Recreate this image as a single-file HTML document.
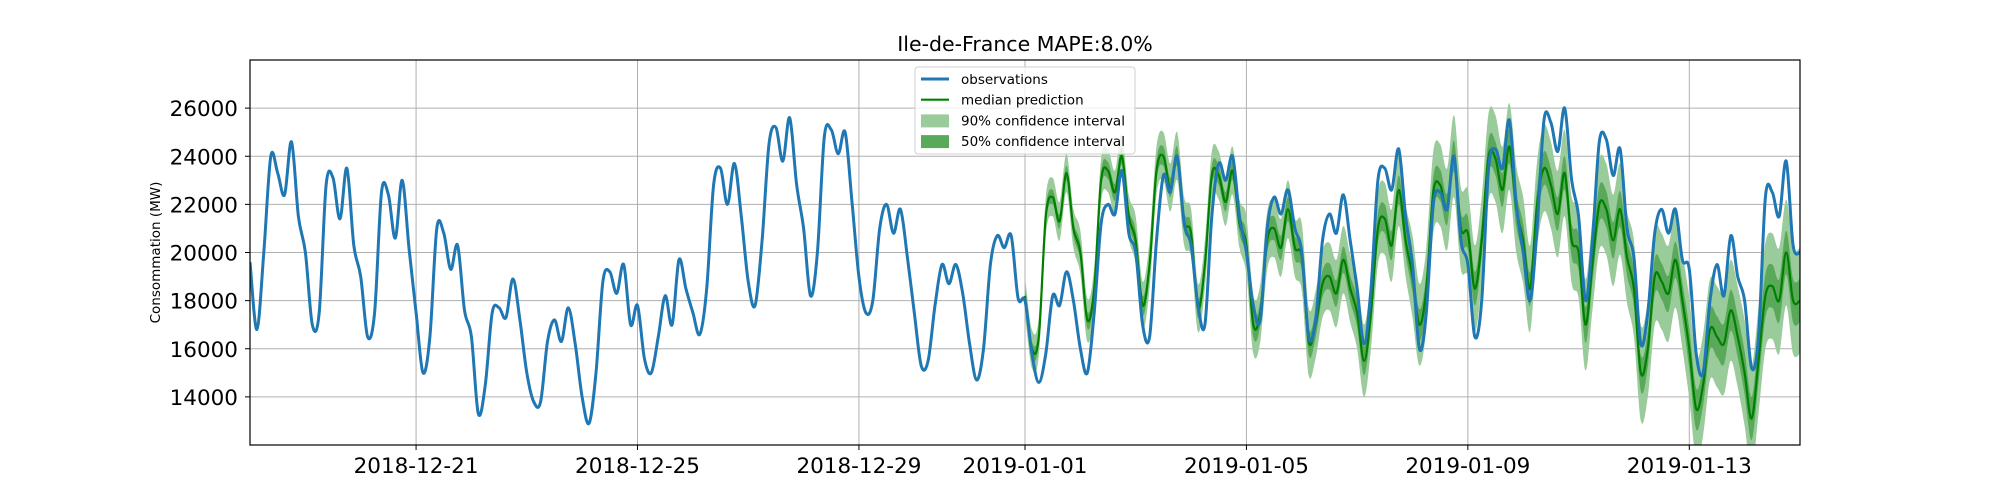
<!DOCTYPE html>
<html><head><meta charset="utf-8">
<style>
html,body{margin:0;padding:0;background:#fff;}
svg{display:block;font-family:"DejaVu Sans","Liberation Sans",sans-serif;}
</style></head>
<body>
<svg id="chart" width="2000" height="500" viewBox="0 0 2000 500"></svg>
<script>
// ---- data ----
const xTickDays = [3, 7, 11, 14, 18, 22, 26];
const xTickLabels = ["2018-12-21","2018-12-25","2018-12-29","2019-01-01","2019-01-05","2019-01-09","2019-01-13"];
const yTicks = [14000, 16000, 18000, 20000, 22000, 24000, 26000];
const stepHours = 3;
// observations, 3-hourly from 2018-12-18 00:00
const observations = [
19600,16800,20000,24000,23300,22400,24600,21500,
20000,17000,17500,22800,23100,21400,23500,20300,
19000,16500,17500,22500,22400,20600,23000,20100,
17500,15000,16500,21000,20800,19300,20300,17600,
16500,13300,14500,17500,17700,17300,18900,17200,
15000,13800,13800,16300,17200,16300,17700,16200,
14000,12900,15000,18800,19200,18300,19500,17000,
17800,15600,15000,16500,18200,17000,19700,18500,
17500,16600,18500,22800,23500,22000,23700,21500,
18800,17800,20500,24500,25200,23800,25600,22800,
21000,18200,20000,24800,25100,24100,25000,22100,
19000,17500,18000,21000,22000,20800,21800,19800,
17500,15300,15500,17800,19500,18700,19500,18300,
16200,14700,16000,19500,20700,20200,20700,18100,
18000,15800,14600,15800,18200,17800,19200,18000,
16000,15000,17500,21200,22000,21600,23400,20800,
20000,17000,16500,20500,23200,22500,24000,21200,
20300,17800,17000,21500,23700,23000,24000,21500,
20000,17800,17200,21000,22300,21600,22600,21000,
20000,16500,17200,20500,21600,20800,22400,20500,
18500,16200,18500,23000,23500,22600,24300,21500,
19500,16000,17500,22000,22500,21800,24000,20500,
19500,16500,18000,23500,24300,23500,25500,22000,
20000,18000,21000,25500,25400,24200,26000,23000,
21500,18000,20500,24600,24700,23200,24300,21000,
19800,16200,17500,20800,21800,20800,21800,19700,
19300,15800,15000,18000,19500,18200,20700,19000,
18000,15200,16500,22300,22500,21500,23800,20300,
20000];
const predStartDay = 14;
// median prediction, 3-hourly from 2019-01-01 00:00
const median = [
18200,16000,16500,21500,22300,21300,23300,21000,
20000,17200,18500,23000,23400,22500,24000,21500,
20500,17800,19500,23400,24000,22700,24000,21300,
20800,17700,19500,23200,23200,22100,23400,21200,
20300,17000,17500,20500,21000,20200,21800,20200,
19800,16300,17000,18700,19000,18300,19700,18500,
17500,15500,17500,21000,21400,20300,22600,20500,
19000,17000,18500,22500,22800,21800,24000,21000,
20800,18500,20500,24000,23900,22600,24400,21800,
20500,18500,22000,23500,22800,21600,23300,20500,
20000,17000,19500,22000,21800,20500,21800,19800,
18500,15000,16000,19000,18800,18300,19700,18000,
16000,13500,14500,16800,16500,16200,17600,16500,
15000,13100,15500,18200,18600,18000,20000,18000,
18000];
// band half-widths per forecast day (MW)
const halfWidth50 = [300,350,400,400,500,550,600,650,700,700,750,750,850,900,900];
const halfWidth90 = [800,900,1000,1000,1200,1400,1500,1700,1800,1800,1900,2000,2100,2200,2200];

// ---- axes ----
const X0=250, X1=1800, Y0=60, Y1=445, DAYS=28, YMIN=12000, YMAX=28000;
const xScale = d => X0 + (d/DAYS)*(X1-X0);
const yScale = v => Y1 - (v-YMIN)/(YMAX-YMIN)*(Y1-Y0);
const NS="http://www.w3.org/2000/svg";
const svg=document.getElementById('chart');
function mk(tag, attrs, parent){const e=document.createElementNS(NS,tag);for(const k in attrs)e.setAttribute(k,attrs[k]);(parent||svg).appendChild(e);return e;}

// smooth curve through points (Catmull-Rom), optionally continuing an existing path
function smooth(pts, start){
  let d = start ? 'M'+pts[0][0].toFixed(1)+','+pts[0][1].toFixed(1) : 'L'+pts[0][0].toFixed(1)+','+pts[0][1].toFixed(1);
  const t=0.5/3;
  for(let i=0;i<pts.length-1;i++){
    const p0=pts[Math.max(i-1,0)], p1=pts[i], p2=pts[i+1], p3=pts[Math.min(i+2,pts.length-1)];
    const c1x=p1[0]+(p2[0]-p0[0])*t, c1y=p1[1]+(p2[1]-p0[1])*t;
    const c2x=p2[0]-(p3[0]-p1[0])*t, c2y=p2[1]-(p3[1]-p1[1])*t;
    d+='C'+c1x.toFixed(1)+','+c1y.toFixed(1)+' '+c2x.toFixed(1)+','+c2y.toFixed(1)+' '+p2[0].toFixed(1)+','+p2[1].toFixed(1);
  }
  return d;
}

const clip=mk('clipPath',{id:'plotclip'});
mk('rect',{x:X0,y:Y0,width:X1-X0,height:Y1-Y0},clip);

// grid
xTickDays.forEach((d,i)=>{
  const g=mk('line',{x1:xScale(d),x2:xScale(d),y1:Y0,y2:Y1,stroke:'#b0b0b0','stroke-width':1});
  
  
  const t=mk('line',{x1:xScale(d),x2:xScale(d),y1:Y1,y2:Y1+5,stroke:'#000','stroke-width':1});
  
  
  const l=mk('text',{x:xScale(d),y:Y1+28,'text-anchor':'middle','font-size':21.5,fill:'#000'});
  l.textContent=xTickLabels[i];
  
  
});
yTicks.forEach(v=>{
  const g=mk('line',{x1:X0,x2:X1,y1:yScale(v),y2:yScale(v),stroke:'#b0b0b0','stroke-width':1});
  
  
  const t=mk('line',{x1:X0-5,x2:X0,y1:yScale(v),y2:yScale(v),stroke:'#000','stroke-width':1});
  
  
  const l=mk('text',{x:X0-12,y:yScale(v)+8,'text-anchor':'end','font-size':21.5,fill:'#000'});
  l.textContent=v;
  
  
});

// bands
function bandPts(hw, sign){
  return median.map((m,i)=>{const d=predStartDay+i*stepHours/24;const k=Math.min(Math.floor(i*stepHours/24),hw.length-1);return [xScale(d),yScale(m+sign*hw[k])];});
}
function area(hw){
  const up=bandPts(hw,1), lo=bandPts(hw,-1).reverse();
  return smooth(up,true)+smooth(lo,false)+'Z';
}
const b90=mk('path',{d:area(halfWidth90),fill:'#9acb9a','clip-path':'url(#plotclip)'});


const b50=mk('path',{d:area(halfWidth50),fill:'#5aa95a','clip-path':'url(#plotclip)'});



const medPts=median.map((m,i)=>[xScale(predStartDay+i*stepHours/24),yScale(m)]);
const med=mk('path',{d:smooth(medPts,true),fill:'none',stroke:'#008000','stroke-width':2.2,'stroke-linejoin':'round','clip-path':'url(#plotclip)'});



const obsPts=observations.map((v,i)=>[xScale(i*stepHours/24),yScale(v)]);
const obs=mk('path',{d:smooth(obsPts,true),fill:'none',stroke:'#1f77b4','stroke-width':3,'stroke-linejoin':'round','clip-path':'url(#plotclip)'});



// frame
const fr=mk('rect',{x:X0,y:Y0,width:X1-X0,height:Y1-Y0,fill:'none',stroke:'#000','stroke-width':1.2});



// title and labels
const title=mk('text',{x:(X0+X1)/2,y:51,'text-anchor':'middle','font-size':20.5,fill:'#000'});
title.textContent='Ile-de-France MAPE:8.0%';


const yl=mk('text',{x:160,y:(Y0+Y1)/2,'text-anchor':'middle','font-size':13.5,fill:'#000',transform:'rotate(-90 160 '+((Y0+Y1)/2)+')'});
yl.textContent='Consommation (MW)';



// legend
const lg=mk('g',{});


mk('rect',{x:915,y:67,width:220,height:87,rx:3,fill:'#fff','fill-opacity':0.8,stroke:'#d0d0d0','stroke-width':1},lg);
const entries=[['observations','line','#1f77b4',3],['median prediction','line','#008000',2.2],['90% confidence interval','patch','#9acb9a'],['50% confidence interval','patch','#5aa95a']];
entries.forEach((e,i)=>{
  const cy=79+i*20.7;
  const g=mk('g',{},lg);
  
  
  if(e[1]==='line') mk('line',{x1:921,x2:949,y1:cy,y2:cy,stroke:e[2],'stroke-width':e[3]},g);
  else mk('rect',{x:921,y:cy-6,width:28,height:13,fill:e[2]},g);
  const t=mk('text',{x:961,y:cy+5,'font-size':13.5,fill:'#000'},g);
  t.textContent=e[0];
});
</script>
</body></html>
